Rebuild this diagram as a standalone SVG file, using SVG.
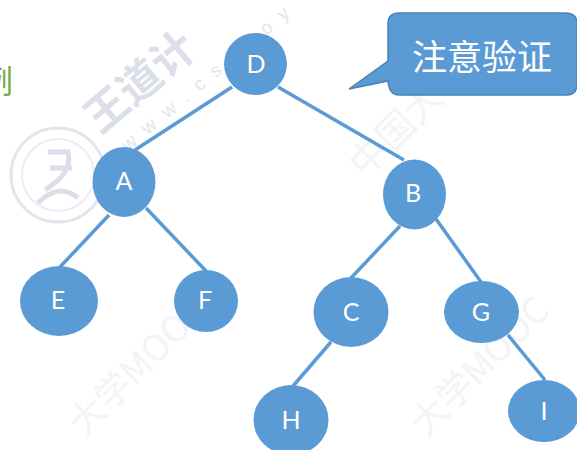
<svg xmlns="http://www.w3.org/2000/svg" width="577" height="450" viewBox="0 0 577 450">
<style>
.n{fill:#5b9bd5}
.t{fill:#fff;font:25px "Lato","Liberation Sans",sans-serif;text-anchor:middle}
.c{stroke:#5b9bd5;stroke-width:3.500;fill:none}
.w{fill:#dcdfea;font-family:"Noto Sans CJK SC",sans-serif;font-weight:700}
.u{fill:#e3e5ee;font-family:"Liberation Sans",sans-serif}
.m{fill:#f3f4f7;font-family:"Noto Sans CJK SC",sans-serif}
</style>
<rect width="577" height="450" fill="#fff"/>
<g id="watermark">
<text class="w" font-size="43" transform="translate(100 135) rotate(-40)">王道计</text>
<text class="u" font-size="19" letter-spacing="12" transform="translate(128 152) rotate(-40)">www.cskaoy</text>
<circle cx="58" cy="175" r="47" fill="none" stroke="#e2e4ee" stroke-width="3"/>
<circle cx="58" cy="175" r="36" fill="none" stroke="#ebedf3" stroke-width="2"/>
<path d="M38 203C52 188 66 188 78 198M45 190C60 180 72 170 68 152H48M50 168H72" fill="none" stroke="#dcdfea" stroke-width="5"/>
<text class="m" font-size="36" transform="translate(84 438) rotate(-45)">大学MOOC</text>
<text class="m" font-size="36" transform="translate(426 438) rotate(-45)">大学MOOC</text>
<text class="m" font-size="38" transform="translate(365 180) rotate(-45)">中国大</text>
</g>
<text id="cut-label" x="-19" y="93" font-family="'Noto Sans CJK SC',sans-serif" font-size="32" fill="#70ad47">例</text>
<g id="connectors" class="c">
<line x1="232" y1="87" x2="135" y2="150"/>
<line x1="278" y1="87" x2="404" y2="160"/>
<line x1="109" y1="215" x2="60" y2="267"/>
<line x1="146" y1="208" x2="206" y2="271"/>
<line x1="400" y1="226" x2="351" y2="278"/>
<line x1="436" y1="219" x2="481" y2="282"/>
<line x1="331" y1="342" x2="293" y2="386"/>
<line x1="508" y1="335" x2="545" y2="380"/>
</g>
<g id="callout">
<path d="M399 13H566Q577 13 577 24V84Q577 95 566 95H399Q389 95 388 81L349 89L388 61V24Q388 13 399 13Z" fill="#5b9bd5" stroke="#4a82b5" stroke-width="1.500"/>
<text x="482" y="70" font-family="'Noto Sans CJK SC',sans-serif" font-size="35" fill="#fff" text-anchor="middle">注意验证</text>
</g>
<g id="D"><ellipse class="n" cx="255.500" cy="64" rx="31.500" ry="31"/><text class="t" x="256" y="73">D</text></g>
<g id="A"><ellipse class="n" cx="124" cy="182" rx="31.500" ry="35"/><text class="t" x="124" y="190">A</text></g>
<g id="B"><ellipse class="n" cx="414.500" cy="194.500" rx="31.500" ry="35"/><text class="t" x="413" y="202">B</text></g>
<g id="E"><ellipse class="n" cx="59" cy="301" rx="39" ry="35"/><text class="t" x="58" y="309">E</text></g>
<g id="F"><ellipse class="n" cx="206" cy="301" rx="32" ry="31"/><text class="t" x="205" y="309">F</text></g>
<g id="C"><ellipse class="n" cx="351" cy="312" rx="37.500" ry="35"/><text class="t" x="351" y="321">C</text></g>
<g id="G"><ellipse class="n" cx="481.500" cy="312" rx="37.500" ry="31"/><text class="t" x="481" y="321">G</text></g>
<g id="H"><ellipse class="n" cx="291" cy="420" rx="37.500" ry="35"/><text class="t" x="291" y="429">H</text></g>
<g id="I"><ellipse class="n" cx="544" cy="411" rx="36" ry="31"/><text class="t" x="544" y="420">I</text></g>
</svg>
